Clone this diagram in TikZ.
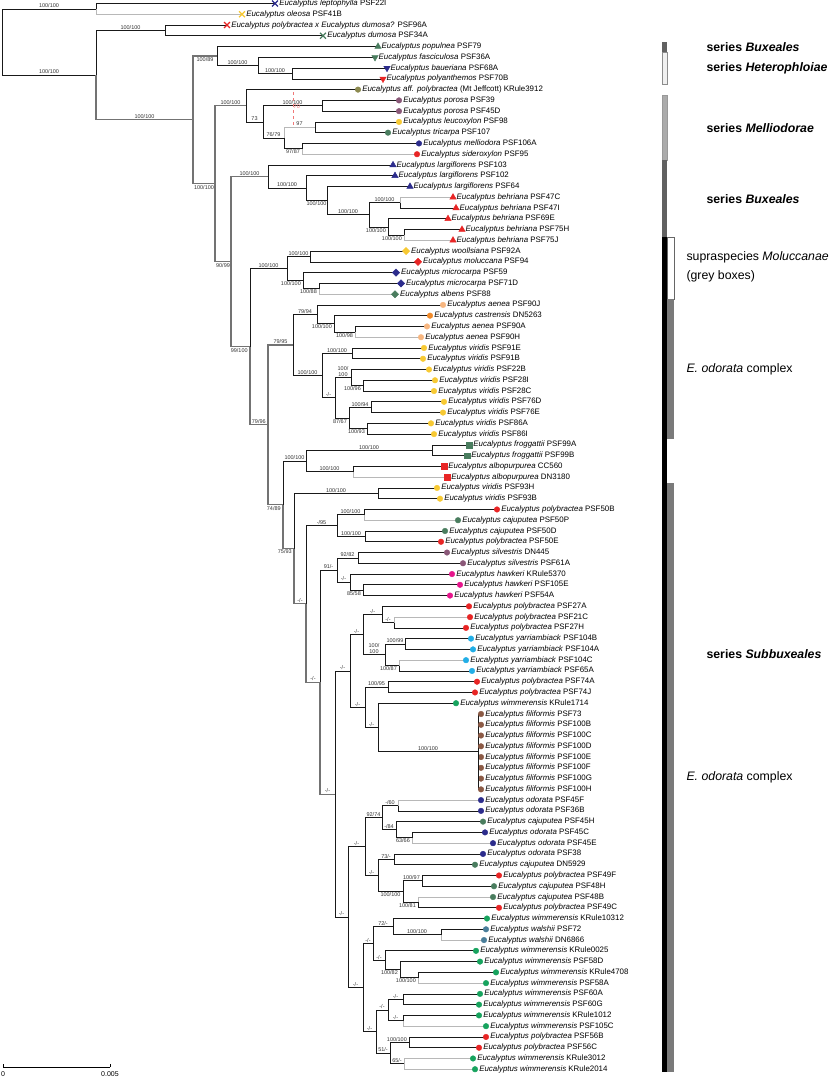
\documentclass[tikz,border=0pt]{standalone}
\usepackage{fontspec}
\setmainfont{Liberation Sans}
\usepackage{tikz}
\usetikzlibrary{shapes.geometric,shapes.misc,positioning}

\definecolor{cblue}{RGB}{44,44,140}
\definecolor{cyel}{RGB}{247,201,51}
\definecolor{cred}{RGB}{232,37,37}
\definecolor{cgrn}{RGB}{74,125,95}
\definecolor{colive}{RGB}{140,138,79}
\definecolor{cmauve}{RGB}{138,88,120}
\definecolor{cpeach}{RGB}{247,182,128}
\definecolor{corange}{RGB}{240,138,42}
\definecolor{cmag}{RGB}{230,22,140}
\definecolor{ccyan}{RGB}{34,174,230}
\definecolor{cwim}{RGB}{23,163,94}
\definecolor{cbrown}{RGB}{139,90,69}
\definecolor{cwal}{RGB}{74,126,154}
\definecolor{cpink}{RGB}{240,120,120}

\newcommand{\tipfont}{\fontsize{7.9}{9}\selectfont}
\newcommand{\supfont}{\fontsize{5.5}{6}\selectfont}
\newcommand{\grpfont}{\fontsize{12.3}{19}\selectfont}
\newcommand{\scalefont}{\fontsize{7}{8}\selectfont}

\begin{document}
\begin{tikzpicture}[x=1pt, y=-1pt,
    bk/.style={draw=black!90, line width=0.7pt},
    bg/.style={draw=black!55, line width=1.1pt},
    bl/.style={draw=black!28, line width=1pt},
    sup/.style={pos=0.75, anchor=south, inner sep=0.8pt, font=\supfont, text=black!80, align=center},
    sub/.style={pos=0.75, anchor=north, inner sep=0.8pt, font=\supfont, text=black!80, align=center},
    supr/.style={pos=1, anchor=south east, xshift=-1pt, inner sep=0.8pt, font=\supfont, text=black!80, align=center},
    subr/.style={pos=1, anchor=north east, xshift=-1pt, inner sep=0.8pt, font=\supfont, text=black!80, align=center},
    mc/.style={circle, inner sep=0pt, minimum size=5.6pt},
    mtu/.style={regular polygon, regular polygon sides=3, inner sep=0pt, minimum size=7.4pt},
    mtd/.style={mtu, shape border rotate=180},
    md/.style={diamond, inner sep=0pt, minimum size=7.4pt},
    ms/.style={rectangle, inner sep=0pt, minimum size=5.8pt},
    mx/.style={cross out, line width=1.3pt, inner sep=0pt, minimum size=4.6pt},
    tiplbl/.style={inner sep=0.5pt, font=\tipfont},
    grp/.style={anchor=west, font=\grpfont, align=left},
    seriesbar/.style={line width=0.3pt}
  ]
  \useasboundingbox (0,0) rectangle (830,1081);

  % Internal nodes of the tree
  \foreach \n/\x/\y in {root/2/42.1, A/96/8.9, B/96/75.2, C/165/30.4, D/193/119.9,
      E/217/56.0, F/258/65.4, G/292/73.5, I/215/183.8, H/246/105.8, J/263/122.0,
      K/322/105.8, L/284/138.1, M/315/127.3, N/302/148.8, O/231/261.7, P/268/176.6,
      P2/306/188.2, P3/327/200.7, B2/369/214.8, B1/400/202.7, B3/388/226.9,
      B4/404/235.0, Q/250/346.8, R/287/268.6, S/310/256.5, T/303/280.7, U/319/288.8,
      X/268/424.9, V/293/345.0, W/317/314.4, W2/334/323.8, W3/355/331.9, BB/322/375.6,
      V1/352/353.4, CC/335/397.8, DD/351/377.6, DD2/363/385.7, EE/349/418.0,
      EE1/371/407.2, EE2/367/428.7, Z/283/504.8, Y/306/461.0, Y1/432/450.3,
      Y2/353/471.8, AA/294/548.6, AA1/378/493.3, GG/306/603.9, FF/337/525.6,
      FF1/364/514.8, FF2/365/536.4, II/320/682.1, HH/337/570.0, HH1/358/557.9,
      HH2/350/582.1, HH3/363/590.2, JJ/335/794.1, KK/350/671.0, LL/363/634.6,
      MM/382/614.4, MM1/394/622.5, NN/385/654.8, NN1/405/644.0, NN2/399/665.5,
      OO/365/707.3, OO1/388/687.1, PP/378/727.5, FL/478/751.7, QQ/348/917.1,
      RR/365/846.6, SS/382/817.6, SS1/398/805.5, TT/396/829.7, TT1/412/837.8,
      UU/378/875.5, UU1/394/859.3, VV/403/891.6, VV1/422/880.8, VV2/418/902.3,
      WW/363/987.5, XX/373/943.4, YY/393/926.6, YY1/441/934.6, ZZ/385/960.2,
      ZZ1/400/969.6, ZZ2/418/977.7, AB/376/1031.5, AC/388/1010.0, AC1/403/999.2,
      AC2/403/1020.7, AD/390/1053.0, AD1/409/1042.2, AD2/404/1063.8}
    \coordinate (\n) at (\x,\y);

  % Branches between internal nodes, with support values
  \foreach \p/\c/\s/\l/\w in {root/A/bk/{100/100}/sup, root/B/bk/{100/100}/sup,
      B/C/bk/{100/100}/sup, B/D/bg/{100/100}/sup, D/E/bg/{100/89}/sub,
      E/F/bk/{100/100}/sup, F/G/bk/{100/100}/sup, D/I/bg/{100/100}/sub,
      I/H/bg/{100/100}/sup, H/J/bk/{73}/sup, J/K/bk/{100/100}/sup, J/L/bk/{76/79}/sup,
      L/M/bl/{97}/sup, L/N/bk/{97/87}/sub, I/O/bg/{90/99}/sub, O/P/bg/{100/100}/sup,
      P/P2/bk/{100/100}/sup, P2/P3/bk/{100/100}/sub, P3/B2/bk/{100/100}/sup,
      B2/B1/bk/{100/100}/sup, B2/B3/bk/{100/100}/subr, B3/B4/bk/{100/100}/subr,
      O/Q/bg/{99/100}/subr, Q/R/bk/{100/100}/sup, R/S/bk/{100/100}/sup,
      R/T/bk/{100/100}/subr, T/U/bk/{100/88}/subr, Q/X/bg/{79/96}/supr,
      X/V/bg/{79/95}/sup, V/W/bk/{79/94}/sup, W/W2/bk/{100/100}/subr,
      W2/W3/bk/{100/98}/sub, V/BB/bk/{100/100}/sup, BB/V1/bk/{100/100}/sup,
      BB/CC/bk/{-/-}/sup, CC/DD/bk/{100/\\100}/sup, DD/DD2/bk/{100/96}/subr,
      CC/EE/bk/{87/67}/subr, EE/EE1/bk/{100/94}/sup, EE/EE2/bk/{100/93}/subr,
      X/Z/bg/{74/89}/subr, Z/Y/bk/{100/100}/sup, Y/Y1/bk/{100/100}/sup,
      Y/Y2/bk/{100/100}/sup, Z/AA/bg/{75/93}/subr, AA/AA1/bk/{100/100}/sup,
      AA/GG/bg/{-/-}/sup, GG/FF/bk/{-/95}/sup, FF/FF1/bk/{100/100}/sup,
      FF/FF2/bk/{100/100}/sup, GG/II/bg/{-/-}/sup, II/HH/bk/{91/-}/sup,
      HH/HH1/bk/{92/82}/sup, HH/HH2/bk/{-/-}/sup, HH2/HH3/bk/{85/58}/subr,
      II/JJ/bg/{-/-}/sup, JJ/KK/bk/{-/-}/sup, KK/LL/bk/{-/-}/sup, LL/MM/bk/{-/-}/sup,
      MM/MM1/bk/{-/-}/sup, LL/NN/bk/{100/\\100}/sup, NN/NN1/bk/{100/99}/sup,
      NN/NN2/bk/{100/87}/subr, KK/OO/bk/{-/-}/sup, OO/OO1/bk/{100/95}/sup,
      OO/PP/bk/{-/-}/sup, PP/FL/bk/{100/100}/sup, JJ/QQ/bk/{-/-}/sup,
      QQ/RR/bk/{-/-}/sup, RR/SS/bk/{92/74}/sup, SS/SS1/bk/{-/60}/sup,
      SS/TT/bk/{-/84}/sup, TT/TT1/bk/{63/66}/subr, RR/UU/bk/{-/-}/sup,
      UU/UU1/bk/{73/-}/sup, UU/VV/bk/{100/100}/sub, VV/VV1/bk/{100/97}/supr,
      VV/VV2/bk/{100/81}/subr, QQ/WW/bk/{-/-}/sup, WW/XX/bk/{-/-}/sup,
      XX/YY/bk/{72/-}/sup, YY/YY1/bk/{100/100}/sup, XX/ZZ/bk/{-/-}/sup,
      ZZ/ZZ1/bk/{100/82}/subr, ZZ1/ZZ2/bk/{100/100}/subr, WW/AB/bk/{-/-}/sup,
      AB/AC/bk/{-/-}/sup, AC/AC1/bk/{-/-}/sup, AC/AC2/bk/{-/-}/sup,
      AB/AD/bk/{51/-}/sup, AD/AD1/bk/{100/100}/supr, AD/AD2/bk/{65/-}/sup}
    \draw[\s] (\p) |- (\c) node[\w] {\l};

  % Bootstrap of the alternative position (red dashes)
  \coordinate (alt1) at (293,92);
  \coordinate (alt2) at (293,127);
  \draw[cpink, dashed, line width=0.8pt] (alt1) -- (alt2);
  \node[font=\supfont, text=cpink, anchor=west, inner sep=0.5pt] (alt) at (293,107) {70};

  % Tips: parent/index/x/species/voucher/colour/marker/branch
  \foreach \p/\i/\x/\sp/\id/\cl/\mk/\s in {
      A/1/275/leptophylla/PSF22I/cblue/mx/bk,
      A/2/242/oleosa/PSF41B/cyel/mx/bl,
      C/3/227/{polybractea x Eucalyptus dumosa?}/PSF96A/cred/mx/bk,
      C/4/323/dumosa/PSF34A/cgrn/mx/bk,
      E/5/378/populnea/PSF79/cgrn/mtu/bk,
      F/6/375/fasciculosa/PSF36A/cgrn/mtd/bk,
      G/7/387/baueriana/PSF68A/cblue/mtd/bk,
      G/8/383/polyanthemos/PSF70B/cred/mtd/bk,
      H/9/358/{aff. polybractea}/{(Mt Jeffcott) KRule3912}/colive/mc/bk,
      K/10/399/porosa/PSF39/cmauve/mc/bk,
      K/11/399/porosa/PSF45D/cmauve/mc/bk,
      M/12/399/leucoxylon/PSF98/cyel/mc/bk,
      M/13/388/tricarpa/PSF107/cgrn/mc/bk,
      N/14/419/melliodora/PSF106A/cblue/mc/bk,
      N/15/417/sideroxylon/PSF95/cred/mc/bl,
      P/16/393/largiflorens/PSF103/cblue/mtu/bk,
      P2/17/395/largiflorens/PSF102/cblue/mtu/bk,
      P3/18/410/largiflorens/PSF64/cblue/mtu/bk,
      B1/19/453/behriana/PSF47C/cred/mtu/bl,
      B1/20/456/behriana/PSF47I/cred/mtu/bk,
      B3/21/448/behriana/PSF69E/cred/mtu/bk,
      B4/22/462/behriana/PSF75H/cred/mtu/bk,
      B4/23/453/behriana/PSF75J/cred/mtu/bl,
      S/24/406/woollsiana/PSF92A/cyel/md/bk,
      S/25/418/moluccana/PSF94/cred/md/bk,
      T/26/396/microcarpa/PSF59/cblue/md/bk,
      U/27/401/microcarpa/PSF71D/cblue/md/bk,
      U/28/395/albens/PSF88/cgrn/md/bl,
      W/29/443/aenea/PSF90J/cpeach/mc/bk,
      W2/30/430/castrensis/DN5263/corange/mc/bk,
      W3/31/427/aenea/PSF90A/cpeach/mc/bk,
      W3/32/421/aenea/PSF90H/cpeach/mc/bl,
      V1/33/424/viridis/PSF91E/cyel/mc/bk,
      V1/34/423/viridis/PSF91B/cyel/mc/bk,
      DD/35/429/viridis/PSF22B/cyel/mc/bk,
      DD2/36/435/viridis/PSF28I/cyel/mc/bk,
      DD2/37/434/viridis/PSF28C/cyel/mc/bk,
      EE1/38/444/viridis/PSF76D/cyel/mc/bk,
      EE1/39/443/viridis/PSF76E/cyel/mc/bk,
      EE2/40/431/viridis/PSF86A/cyel/mc/bk,
      EE2/41/434/viridis/PSF86I/cyel/mc/bk,
      Y1/42/469/froggattii/PSF99A/cgrn/ms/bk,
      Y1/43/467/froggattii/PSF99B/cgrn/ms/bk,
      Y2/44/444/albopurpurea/CC560/cred/ms/bk,
      Y2/45/447/albopurpurea/DN3180/cred/ms/bl,
      AA1/46/437/viridis/PSF93H/cyel/mc/bk,
      AA1/47/440/viridis/PSF93B/cyel/mc/bk,
      FF1/48/497/polybractea/PSF50B/cred/mc/bk,
      FF1/49/458/cajuputea/PSF50P/cgrn/mc/bl,
      FF2/50/445/cajuputea/PSF50D/cgrn/mc/bk,
      FF2/51/441/polybractea/PSF50E/cred/mc/bk,
      HH1/52/447/silvestris/DN445/cmauve/mc/bk,
      HH1/53/463/silvestris/PSF61A/cmauve/mc/bk,
      HH2/54/452/hawkeri/KRule5370/cmag/mc/bk,
      HH3/55/460/hawkeri/PSF105E/cmag/mc/bk,
      HH3/56/450/hawkeri/PSF54A/cmag/mc/bk,
      MM/57/469/polybractea/PSF27A/cred/mc/bk,
      MM1/58/470/polybractea/PSF21C/cred/mc/bl,
      MM1/59/466/polybractea/PSF27H/cred/mc/bk,
      NN1/60/471/yarriambiack/PSF104B/ccyan/mc/bk,
      NN1/61/473/yarriambiack/PSF104A/ccyan/mc/bk,
      NN2/62/466/yarriambiack/PSF104C/ccyan/mc/bl,
      NN2/63/472/yarriambiack/PSF65A/ccyan/mc/bk,
      OO1/64/477/polybractea/PSF74A/cred/mc/bk,
      OO1/65/475/polybractea/PSF74J/cred/mc/bk,
      PP/66/456/wimmerensis/KRule1714/cwim/mc/bk,
      FL/67/481/filiformis/PSF73/cbrown/mc/bk,
      FL/68/481/filiformis/PSF100B/cbrown/mc/bk,
      FL/69/481/filiformis/PSF100C/cbrown/mc/bk,
      FL/70/481/filiformis/PSF100D/cbrown/mc/bk,
      FL/71/481/filiformis/PSF100E/cbrown/mc/bk,
      FL/72/481/filiformis/PSF100F/cbrown/mc/bk,
      FL/73/481/filiformis/PSF100G/cbrown/mc/bk,
      FL/74/481/filiformis/PSF100H/cbrown/mc/bk,
      SS1/75/481/odorata/PSF45F/cblue/mc/bl,
      SS1/76/481/odorata/PSF36B/cblue/mc/bk,
      TT/77/483/cajuputea/PSF45H/cgrn/mc/bk,
      TT1/78/485/odorata/PSF45C/cblue/mc/bk,
      TT1/79/493/odorata/PSF45E/cblue/mc/bl,
      UU1/80/483/odorata/PSF38/cblue/mc/bk,
      UU1/81/475/cajuputea/DN5929/cgrn/mc/bk,
      VV1/82/499/polybractea/PSF49F/cred/mc/bk,
      VV1/83/494/cajuputea/PSF48H/cgrn/mc/bk,
      VV2/84/493/cajuputea/PSF48B/cgrn/mc/bl,
      VV2/85/499/polybractea/PSF49C/cred/mc/bk,
      YY/86/487/wimmerensis/KRule10312/cwim/mc/bk,
      YY1/87/486/walshii/PSF72/cwal/mc/bk,
      YY1/88/484/walshii/DN6866/cwal/mc/bl,
      ZZ/89/476/wimmerensis/KRule0025/cwim/mc/bk,
      ZZ1/90/480/wimmerensis/PSF58D/cwim/mc/bk,
      ZZ2/91/496/wimmerensis/KRule4708/cwim/mc/bk,
      ZZ2/92/486/wimmerensis/PSF58A/cwim/mc/bl,
      AC1/93/480/wimmerensis/PSF60A/cwim/mc/bk,
      AC1/94/479/wimmerensis/PSF60G/cwim/mc/bk,
      AC2/95/479/wimmerensis/KRule1012/cwim/mc/bk,
      AC2/96/486/wimmerensis/PSF105C/cwim/mc/bl,
      AD1/97/486/polybractea/PSF56B/cred/mc/bk,
      AD1/98/479/polybractea/PSF56C/cred/mc/bk,
      AD2/99/473/wimmerensis/KRule3012/cwim/mc/bl,
      AD2/100/475/wimmerensis/KRule2014/cwim/mc/bl}
  {
    \coordinate (t\i) at (\x,{3.5+10.765*(\i-1)});
    \draw[\s] (\p) |- (t\i);
    \node[\mk, fill=\cl, draw=\cl] (m\i) at (t\i) {};
    \node[tiplbl, right=0.6pt of m\i] (l\i) {\textit{Eucalyptus \sp} \id};
  }

  % Bars for the series and groups
  \fill[black!62] (662,42) rectangle (667,52);
  \filldraw[seriesbar, fill=black!6, draw=black!45] (662,52) rectangle (667,84);
  \filldraw[seriesbar, fill=black!33, draw=black!40] (662,95) rectangle (667,160);
  \fill[black!62] (662,160) rectangle (667,237);
  \fill[black] (662,237) rectangle (667,1072);
  \filldraw[seriesbar, fill=white, draw=black!60] (667,237) rectangle (674,299);
  \fill[black!52] (667,299) rectangle (674,439);
  \fill[black!52] (667,483) rectangle (674,1072);

  % Labels of the series and groups
  \node[grp] (sbux1) at (703,47) {\textbf{series \textit{Buxeales}}};
  \node[grp] (shet) at (703,68) {\textbf{series \textit{Heterophloiae}}};
  \node[grp] (smel) at (703,128) {\textbf{series \textit{Melliodorae}}};
  \node[grp] (sbux2) at (703,199) {\textbf{series \textit{Buxeales}}};
  \node[grp] (smol) at (683,267) {supraspecies \textit{Moluccanae}\\(grey boxes)};
  \node[grp] (sodo1) at (683,369) {\textit{E. odorata} complex};
  \node[grp] (ssub) at (703,654) {\textbf{series \textit{Subbuxeales}}};
  \node[grp] (sodo2) at (683,777) {\textit{E. odorata} complex};

  % Scale bar
  \coordinate (s0) at (3,1067);
  \coordinate (s1) at (110,1067);
  \draw[line width=0.5pt] (s0) -- (s1);
  \draw[line width=0.5pt] (s0) -- ++(0,-3) (s1) -- ++(0,-3);
  \node[font=\scalefont, below=1pt of s0] (s0l) {0};
  \node[font=\scalefont, below=1pt of s1] (s1l) {0.005};
\end{tikzpicture}
\end{document}
